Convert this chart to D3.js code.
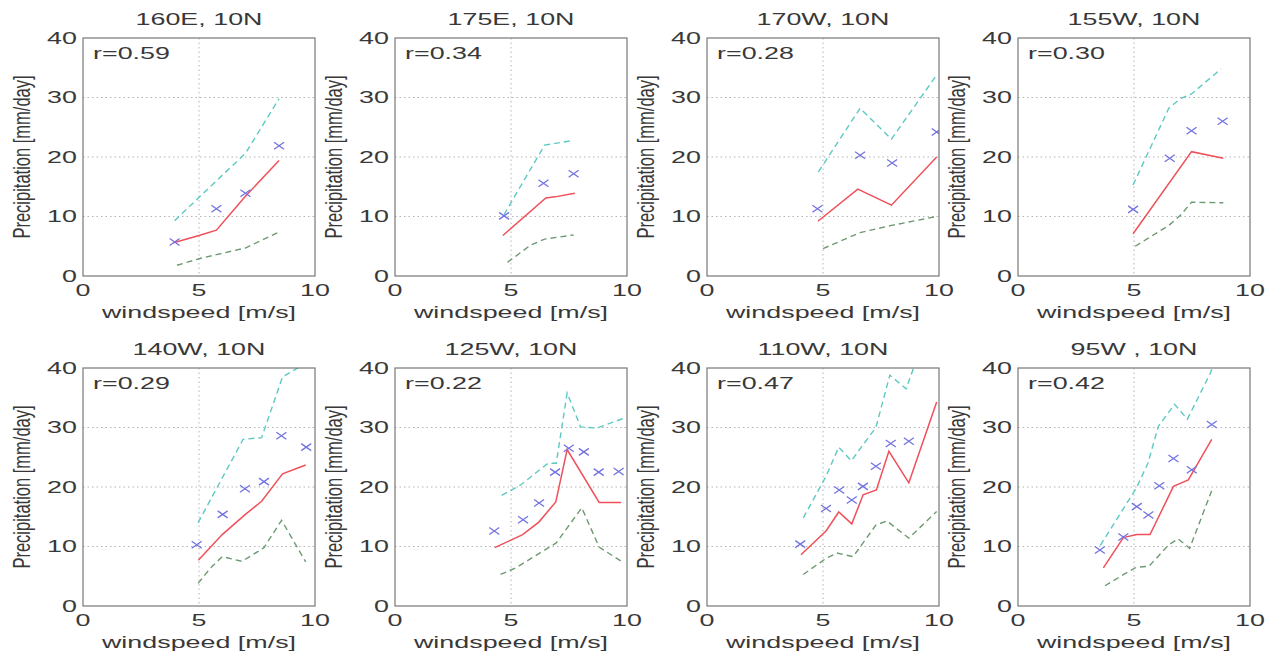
<!DOCTYPE html>
<html>
<head>
<meta charset="utf-8">
<script src="https://cdn.jsdelivr.net/npm/d3@7"></script>
<style>
  body { margin: 0; background: #fff; }
  text { font-family: "Liberation Sans", Arial, Helvetica, sans-serif; fill: #383838; }
</style>
</head>
<body>
<div id="chart"></div>
<script>
// panel labels
const panelTitles = ["160E, 10N", "175E, 10N", "170W, 10N", "155W, 10N",
                     "140W, 10N", "125W, 10N", "110W, 10N", "95W , 10N"]
const rValues = ["0.59", "0.34", "0.28", "0.30", "0.29", "0.22", "0.47", "0.42"]
const xTicks = [0, 5, 10]
const yTicks = [0, 10, 20, 30, 40]

// [windspeed, precipitation] per panel
const upperLines = [
  [[3.95,9.3],[5.75,16.0],[7.0,20.6],[8.45,29.8]],
  [[4.7,10.3],[5.1,13.0],[6.45,22.0],[7.7,22.8]],
  [[4.8,17.5],[6.6,28.2],[7.95,23.0],[9.9,33.8]],
  [[4.96,15.3],[6.5,28.2],[7.0,29.8],[7.48,30.6],[8.75,34.8]],
  [[4.96,14.0],[6.9,28.0],[7.7,28.3],[8.6,38.5],[9.6,40.8]],
  [[4.6,18.6],[5.4,20.3],[6.6,24.0],[6.95,24.0],[7.42,35.8],[8.0,30.1],[8.7,29.9],[9.9,31.6]],
  [[4.15,14.8],[5.13,21.8],[5.68,26.7],[6.22,24.4],[7.28,30.0],[7.88,38.8],[8.58,36.5],[8.95,40.5]],
  [[3.55,10.2],[5.1,19.8],[5.6,24.0],[6.05,30.2],[6.75,33.9],[7.3,31.4],[8.3,39.2],[8.45,41.0]]
]
const medianLines = [
  [[3.9,5.6],[5.0,6.8],[5.75,7.7],[7.0,13.4],[8.45,19.4]],
  [[4.65,6.8],[6.5,13.1],[6.9,13.3],[7.75,13.9]],
  [[4.78,9.2],[6.5,14.6],[7.95,11.9],[9.9,20.0]],
  [[4.96,7.1],[7.48,20.9],[8.85,19.8]],
  [[4.97,7.7],[6.0,12.0],[7.0,15.4],[7.7,17.6],[8.6,22.2],[9.6,23.7]],
  [[4.3,9.8],[5.5,12.0],[6.2,14.1],[6.93,17.5],[7.42,26.3],[8.8,17.4],[9.75,17.4]],
  [[4.05,8.6],[5.13,12.6],[5.68,15.8],[6.24,13.8],[6.73,18.7],[7.3,19.5],[7.84,26.0],[8.7,20.7],[9.9,34.3]],
  [[3.68,6.4],[4.54,11.5],[5.12,12.0],[5.69,12.0],[6.7,20.1],[7.34,21.2],[8.35,28.0]]
]
const lowerLines = [
  [[4.05,1.8],[5.0,2.9],[5.75,3.6],[7.0,4.7],[8.45,7.4]],
  [[4.85,2.3],[5.85,5.2],[6.45,6.2],[7.7,6.9]],
  [[5.0,4.6],[6.6,7.3],[7.95,8.5],[9.9,10.0]],
  [[5.05,5.0],[6.5,8.5],[7.0,10.2],[7.48,12.4],[8.85,12.3]],
  [[4.96,3.8],[5.5,6.4],[6.0,8.3],[6.85,7.5],[7.8,9.8],[8.56,14.4],[9.6,7.4]],
  [[4.55,5.3],[5.2,6.4],[6.95,10.6],[8.05,16.5],[8.8,9.9],[9.8,7.4]],
  [[4.15,5.3],[5.13,8.0],[5.6,8.9],[6.3,8.3],[7.28,13.6],[7.75,14.3],[8.7,11.4],[9.9,15.9]],
  [[3.75,3.4],[4.6,5.4],[5.1,6.5],[5.65,6.7],[6.5,10.3],[6.9,11.3],[7.4,9.7],[8.35,19.4]]
]
const meanMarks = [
  [[3.95,5.7],[5.75,11.3],[7.0,13.9],[8.45,21.9]],
  [[4.7,10.1],[6.4,15.6],[7.7,17.2]],
  [[4.76,11.3],[6.6,20.3],[7.98,19.0],[9.9,24.2]],
  [[4.96,11.2],[6.54,19.8],[7.48,24.4],[8.82,26.0]],
  [[4.9,10.3],[6.02,15.4],[6.98,19.7],[7.8,20.9],[8.55,28.6],[9.62,26.7]],
  [[4.28,12.6],[5.52,14.5],[6.21,17.3],[6.9,22.5],[7.49,26.5],[8.14,25.9],[8.78,22.5],[9.64,22.6]],
  [[4.02,10.4],[5.13,16.4],[5.7,19.5],[6.24,17.8],[6.72,20.1],[7.28,23.5],[7.92,27.3],[8.7,27.7]],
  [[3.53,9.4],[4.54,11.6],[5.12,16.7],[5.62,15.3],[6.09,20.2],[6.7,24.8],[7.49,22.9],[8.35,30.5]]
]

const W = 1273, H = 654
const pw = 232, ph = 238
const colLeft = [83, 395, 707, 1018]
const rowTop = [38, 368]
const SX = 1.68   // text in the picture is stretched sideways

const svg = d3.select("#chart").append("svg")
  .attr("width", W).attr("height", H)

function stretchText(g, x, y, str, anchor, size) {
  return g.append("text")
    .attr("transform", `translate(${x},${y}) scale(${SX},1)`)
    .attr("text-anchor", anchor)
    .style("font-size", size + "px")
    .text(str)
}

panelTitles.forEach((title, i) => {
  const left = colLeft[i % 4], top = rowTop[Math.floor(i / 4)]
  const g = svg.append("g").attr("transform", `translate(${left},${top})`)

  const x = d3.scaleLinear().domain([0, 10]).range([0, pw])
  const y = d3.scaleLinear().domain([0, 40]).range([ph, 0])

  const clipId = "clip" + i
  g.append("clipPath").attr("id", clipId)
    .append("rect").attr("width", pw).attr("height", ph)

  // dotted grid
  g.selectAll(".gx").data(xTicks.slice(1, -1)).enter().append("line")
    .attr("x1", d => x(d)).attr("x2", d => x(d))
    .attr("y1", 0).attr("y2", ph)
    .style("stroke", "#b4b4b4").style("stroke-width", 1).style("stroke-dasharray", "1.5,3")
  g.selectAll(".gy").data(yTicks.slice(1, -1)).enter().append("line")
    .attr("x1", 0).attr("x2", pw)
    .attr("y1", d => y(d)).attr("y2", d => y(d))
    .style("stroke", "#b4b4b4").style("stroke-width", 1).style("stroke-dasharray", "1.5,3")

  const plot = g.append("g").attr("clip-path", `url(#${clipId})`)
  const line = d3.line().x(d => x(d[0])).y(d => y(d[1]))

  plot.append("path").attr("d", line(upperLines[i]))
    .style("fill", "none").style("stroke", "#5ccac2").style("stroke-width", 1.4)
    .style("stroke-dasharray", "6,4")
  plot.append("path").attr("d", line(lowerLines[i]))
    .style("fill", "none").style("stroke", "#6e9a72").style("stroke-width", 1.4)
    .style("stroke-dasharray", "6,4")
  plot.append("path").attr("d", line(medianLines[i]))
    .style("fill", "none").style("stroke", "#f0505a").style("stroke-width", 1.5)

  // 'x' markers
  plot.selectAll(".mk").data(meanMarks[i]).enter().append("path")
    .attr("d", d => {
      const cx = x(d[0]), cy = y(d[1])
      return `M${cx-5},${cy-3.5}L${cx+5},${cy+3.5}M${cx-5},${cy+3.5}L${cx+5},${cy-3.5}`
    })
    .style("fill", "none").style("stroke", "#7373e0").style("stroke-width", 1.3)

  // box
  g.append("rect").attr("width", pw).attr("height", ph)
    .style("fill", "none").style("stroke", "#777").style("stroke-width", 1.2)

  // tick labels
  yTicks.forEach(t => stretchText(g, -6, y(t) + 5.5, t, "end", 16))
  xTicks.forEach(t => stretchText(g, x(t), ph + 20, t, "middle", 16))

  stretchText(g, pw / 2, -13, title, "middle", 16)
  stretchText(g, pw / 2, ph + 42, "windspeed [m/s]", "middle", 16)
  stretchText(g, 10, 21, "r=" + rValues[i], "start", 16)

  g.append("text")
    .attr("transform", `translate(-61,${ph / 2}) scale(1.4,1) rotate(-90)`)
    .attr("text-anchor", "middle").attr("dy", "0.35em")
    .style("font-size", "16.5px")
    .text("Precipitation [mm/day]")
})
</script>
</body>
</html>
